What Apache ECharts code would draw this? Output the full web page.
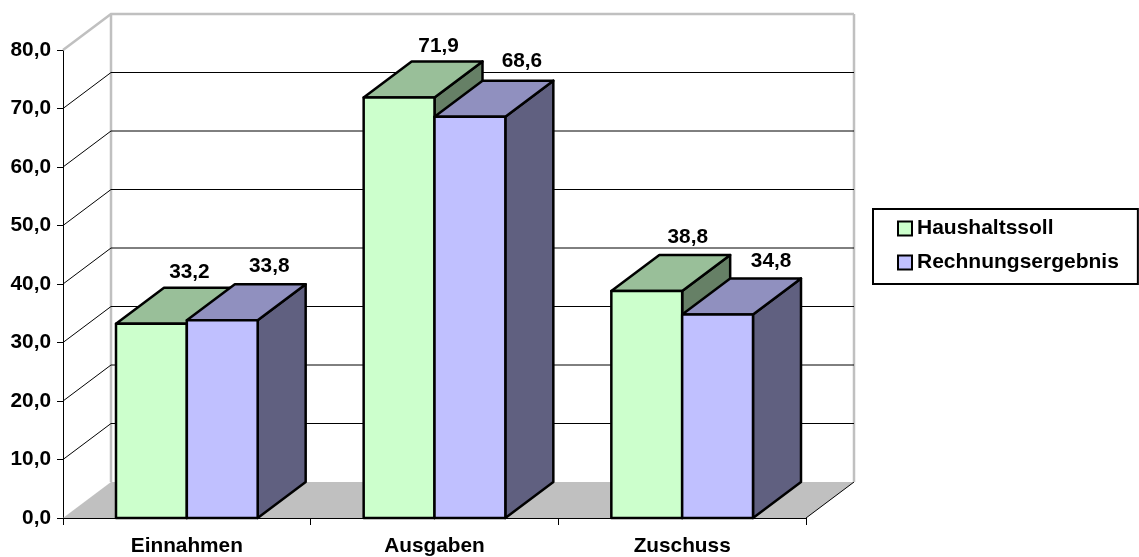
<!DOCTYPE html>
<html>
<head>
<meta charset="utf-8">
<style>html,body{margin:0;padding:0;background:#fff}#chart{width:1139px;height:557px}</style>
<script src="https://cdn.jsdelivr.net/npm/echarts@6/dist/echarts.min.js"></script>
</head>
<body>
<div id="chart"></div>
<script>
const categories = ['Einnahmen', 'Ausgaben', 'Zuschuss'];
const haushaltssoll = [33.2, 71.9, 38.8];
const rechnungsergebnis = [33.8, 68.6, 34.8];
const yTicks = [10, 20, 30, 40, 50, 60, 70, 80];

// Pseudo-3D projection: how far the back of the plot sits from the front plane.
const DEPTH_X = 48;
const DEPTH_Y = -36;
const BAR_SHARE = 0.286;
const FONT = '"Liberation Sans", Arial, sans-serif';
const LABEL_SIZE = 20.8;

const fmt = v => v.toFixed(1).replace('.', ',');

// Nudges of the value captions relative to each bar's top front edge.
const captionNudge = [
  [[38, -52], [47, -54]],
  [[39.5, -51], [52, -55.5]],
  [[41, -54], [53.5, -53.5]]
];

function wallItem(params, api) {
  const cs = params.coordSys;
  const v = api.value(0);
  const y = api.coord([0, v])[1];
  const x0 = cs.x, x1 = x0 + DEPTH_X, x2 = cs.x + cs.width + DEPTH_X;
  const by = y + DEPTH_Y;
  const top = v === 80;
  return { type: 'polyline', silent: true,
    shape: { points: [[x0, y], [x1, by], [x2, by]] },
    style: { fill: null, stroke: top ? '#c0c0c0' : '#000', lineWidth: top ? 2.5 : 1 } };
}

function floorItem(params, api) {
  const cs = params.coordSys;
  const y0 = cs.y + cs.height, xL = cs.x, xR = cs.x + cs.width;
  const yb = y0 + DEPTH_Y, yt = cs.y + DEPTH_Y;
  return { type: 'group', silent: true, children: [
    { type: 'polygon', shape: { points: [[xL, y0], [xL + DEPTH_X, yb], [xR + DEPTH_X, yb], [xR, y0]] },
      style: { fill: '#c0c0c0', stroke: null } },
    { type: 'line', shape: { x1: xR, y1: y0, x2: xR + DEPTH_X, y2: yb },
      style: { stroke: '#000', lineWidth: 1 } },
    { type: 'line', shape: { x1: xL + DEPTH_X, y1: yt, x2: xL + DEPTH_X, y2: yb },
      style: { stroke: '#c0c0c0', lineWidth: 2.5 } },
    { type: 'line', shape: { x1: xR + DEPTH_X, y1: yt, x2: xR + DEPTH_X, y2: yb },
      style: { stroke: '#c0c0c0', lineWidth: 2.5 } }
  ] };
}

function barItem(side, front, top, flank) {
  return function (params, api) {
    const idx = api.value(0), val = api.value(1);
    const tp = api.coord([idx, val]);
    const base = api.coord([idx, 0]);
    const w = api.size([1, 0])[0] * BAR_SHARE;
    const xa = tp[0] + (side === 0 ? -w : 0), xb = xa + w;
    const yt = tp[1], yb = base[1];
    const stroke = { stroke: '#000', lineWidth: 2.5, lineJoin: 'round' };
    const nudge = captionNudge[idx][side];
    return { type: 'group', children: [
      { type: 'polygon', shape: { points: [[xb, yt], [xb + DEPTH_X, yt + DEPTH_Y], [xb + DEPTH_X, yb + DEPTH_Y], [xb, yb]] },
        style: Object.assign({ fill: flank }, stroke) },
      { type: 'polygon', shape: { points: [[xa, yt], [xa + DEPTH_X, yt + DEPTH_Y], [xb + DEPTH_X, yt + DEPTH_Y], [xb, yt]] },
        style: Object.assign({ fill: top }, stroke) },
      { type: 'rect', shape: { x: xa, y: yt, width: w, height: yb - yt },
        style: Object.assign({ fill: front }, stroke) },
      { type: 'text', z2: 10,
        style: { x: (xa + xb) / 2 + nudge[0], y: yt + nudge[1], text: fmt(val),
          fill: '#000', font: 'bold ' + LABEL_SIZE + 'px ' + FONT, align: 'center', verticalAlign: 'middle' } }
    ] };
  };
}

const chart = echarts.init(document.getElementById('chart'), null, { renderer: 'canvas' });
chart.setOption({
  animation: false,
  backgroundColor: '#fff',
  grid: { left: 63, top: 50, width: 743, height: 468 },
  xAxis: {
    type: 'category', data: categories,
    axisLine: { show: true, onZero: false, lineStyle: { color: '#000', width: 1 } },
    axisTick: { show: true, length: 7, lineStyle: { color: '#000' } },
    axisLabel: { color: '#000', fontFamily: FONT, fontWeight: 'bold', fontSize: LABEL_SIZE, margin: 18 },
    splitLine: { show: false }
  },
  yAxis: {
    type: 'value', min: 0, max: 80, interval: 10,
    axisLine: { show: true, lineStyle: { color: '#000', width: 1 } },
    axisTick: { show: true, length: 6, lineStyle: { color: '#000' } },
    axisLabel: { color: '#000', fontFamily: FONT, fontWeight: 'bold', fontSize: LABEL_SIZE, margin: 12,
      padding: [4, 0, 0, 0], formatter: fmt },
    splitLine: { show: false }
  },
  legend: {
    data: ['Haushaltssoll', 'Rechnungsergebnis'],
    orient: 'vertical', left: 873, top: 209,
    padding: [9, 19, 11, 24], itemGap: 13, itemWidth: 14, itemHeight: 14, icon: 'rect',
    backgroundColor: '#fff', borderColor: '#000', borderWidth: 2,
    itemStyle: { borderColor: '#000', borderWidth: 2 },
    textStyle: { color: '#000', fontFamily: FONT, fontWeight: 'bold', fontSize: 21 }
  },
  series: [
    { type: 'custom', name: 'Boden', silent: true, z: 1, data: [[0]], renderItem: floorItem, encode: { y: 0 } },
    { type: 'custom', name: 'Gitter', silent: true, z: 1, data: yTicks.map(v => [v]), renderItem: wallItem, encode: { y: 0 } },
    { type: 'custom', name: 'Haushaltssoll', z: 3, itemStyle: { color: '#ccffcc' },
      data: haushaltssoll.map((v, i) => [i, v]), encode: { x: 0, y: 1 },
      renderItem: barItem(0, '#ccffcc', '#99bf99', '#668066') },
    { type: 'custom', name: 'Rechnungsergebnis', z: 4, itemStyle: { color: '#c0c0ff' },
      data: rechnungsergebnis.map((v, i) => [i, v]), encode: { x: 0, y: 1 },
      renderItem: barItem(1, '#c0c0ff', '#9090bf', '#606080') }
  ]
});
</script>
</body>
</html>
